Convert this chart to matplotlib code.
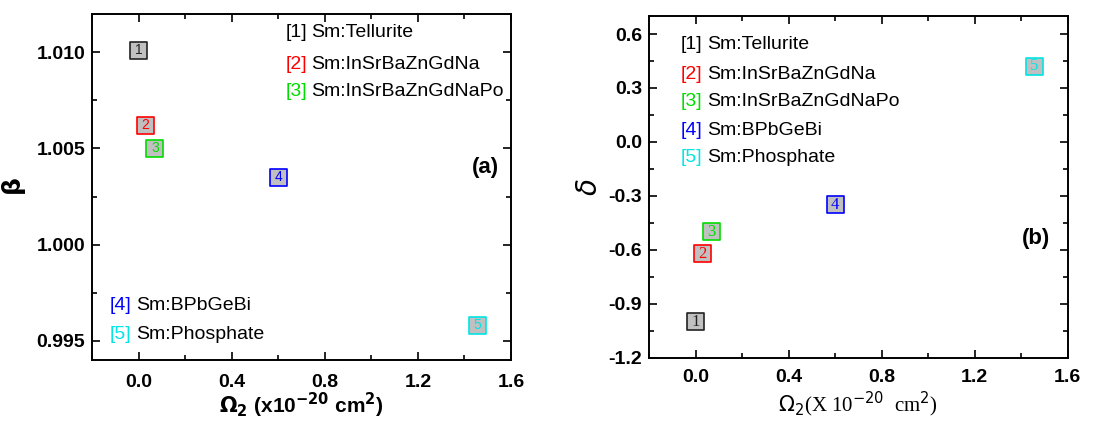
import matplotlib
matplotlib.use("Agg")
import matplotlib.pyplot as plt
from matplotlib.ticker import MultipleLocator, FormatStrFormatter

# --- data ---
labels = ["1", "2", "3", "4", "5"]
names = ["Sm:Tellurite", "Sm:InSrBaZnGdNa", "Sm:InSrBaZnGdNaPo", "Sm:BPbGeBi", "Sm:Phosphate"]
colors = ["#222222", "#ff0000", "#00dd00", "#0000ff", "#00e5e5"]
omega2 = [0.0, 0.03, 0.07, 0.60, 1.457]
beta = [1.0101, 1.0062, 1.0050, 1.0035, 0.9958]
omega2_b = [0.0, 0.03, 0.07, 0.60, 1.457]
delta = [-1.00, -0.62, -0.50, -0.35, 0.42]

plt.rcParams["font.family"] = ["Liberation Sans", "DejaVu Sans"]

fig = plt.figure(figsize=(11.17, 4.22), dpi=100)
ax1 = fig.add_axes([0.0824, 0.147, 0.375, 0.820])
ax2 = fig.add_axes([0.581, 0.152, 0.375, 0.810])


def style_axes(ax, xpad):
    for sp in ax.spines.values():
        sp.set_linewidth(1.4)
    ax.tick_params(which="both", direction="in", top=True, right=True, width=1.2)
    ax.tick_params(which="major", length=6, labelsize=14)
    ax.tick_params(axis="x", which="major", pad=xpad)
    ax.tick_params(axis="y", which="major", pad=5)
    ax.tick_params(which="minor", length=3.5)
    for lab in ax.get_xticklabels() + ax.get_yticklabels():
        lab.set_fontweight("bold")


def draw_points(ax, xs, ys, family, fs):
    ax.scatter(xs, ys, marker="s", s=150, c="#c0c0c0", edgecolors=colors,
               linewidths=1.2, zorder=3)
    for x, y, lab, c in zip(xs, ys, labels, colors):
        ax.text(x, y, lab, color=c, ha="center", va="center", fontsize=fs,
                family=family, zorder=4)


def legend_line(ax, x, y, idx, fs=14):
    ax.text(x, y, "[%s]" % labels[idx], color=colors[idx] if idx else "black",
            fontsize=fs, ha="left", va="center", transform=ax.transAxes)
    ax.text(x + 0.063, y, names[idx], color="black", fontsize=fs,
            ha="left", va="center", transform=ax.transAxes)


# panel (a)
ax1.set_xlim(-0.2, 1.6)
ax1.set_ylim(0.994, 1.012)
ax1.xaxis.set_major_locator(MultipleLocator(0.4))
ax1.xaxis.set_minor_locator(MultipleLocator(0.2))
ax1.yaxis.set_major_locator(MultipleLocator(0.005))
ax1.yaxis.set_minor_locator(MultipleLocator(0.0025))
ax1.xaxis.set_major_formatter(FormatStrFormatter("%.1f"))
ax1.yaxis.set_major_formatter(FormatStrFormatter("%.3f"))
style_axes(ax1, 10)
draw_points(ax1, omega2, beta, ["Liberation Sans"], 10)
ax1.set_ylabel(r"$\mathbf{\beta}$", fontsize=18, labelpad=6)
ax1.set_xlabel(r"$\mathbf{\Omega_2}$ (x10$^{\mathbf{-20}}$ cm$^{\mathbf{2}}$)",
               fontsize=15, fontweight="bold", labelpad=0)
for i, yy in zip(range(3), [0.945, 0.855, 0.777]):
    legend_line(ax1, 0.461, yy, i)
for i, yy in zip(range(3, 5), [0.156, 0.075]):
    legend_line(ax1, 0.042, yy, i)
ax1.text(0.94, 0.556, "(a)", transform=ax1.transAxes, fontsize=16,
         fontweight="bold", ha="center", va="center")

# panel (b)
ax2.set_xlim(-0.2, 1.6)
ax2.set_ylim(-1.2, 0.7)
ax2.xaxis.set_major_locator(MultipleLocator(0.4))
ax2.xaxis.set_minor_locator(MultipleLocator(0.2))
ax2.yaxis.set_major_locator(MultipleLocator(0.3))
ax2.yaxis.set_minor_locator(MultipleLocator(0.15))
ax2.xaxis.set_major_formatter(FormatStrFormatter("%.1f"))
ax2.yaxis.set_major_formatter(FormatStrFormatter("%.1f"))
style_axes(ax2, 8)
draw_points(ax2, omega2_b, delta, ["Liberation Serif"], 12)
ax2.set_ylabel(r"$\delta$", fontsize=20, labelpad=4,
               family=["Liberation Serif"])
ax2.set_xlabel(r"$\Omega_2$(X 10$^{-20}$  cm$^2$)", fontsize=15,
               family=["Liberation Serif"], labelpad=3)
for i, yy in zip(range(5), [0.918, 0.830, 0.751, 0.664, 0.585]):
    legend_line(ax2, 0.076, yy, i)
ax2.text(0.923, 0.350, "(b)", transform=ax2.transAxes, fontsize=16,
         fontweight="bold", ha="center", va="center")

fig.savefig("out.png", dpi=100)
